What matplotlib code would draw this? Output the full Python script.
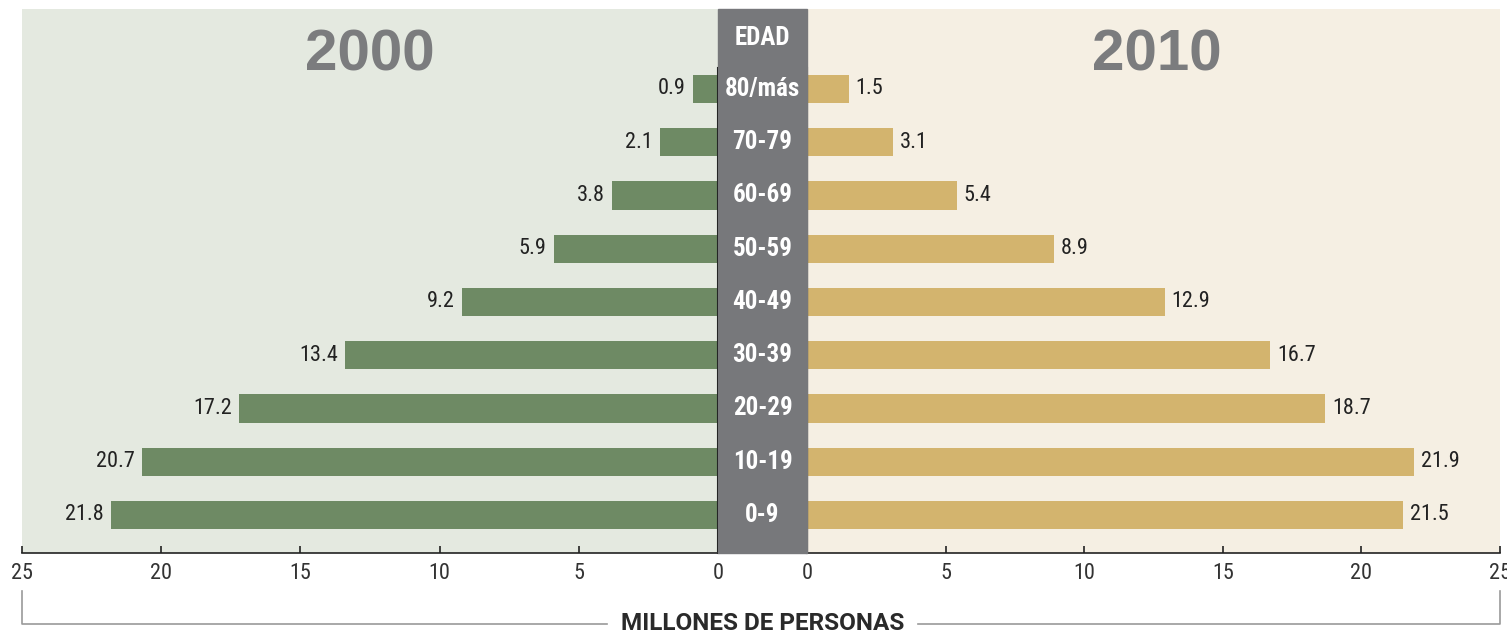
import matplotlib
matplotlib.use('Agg')
import matplotlib.pyplot as plt
from matplotlib.patches import Rectangle
from matplotlib.lines import Line2D
import matplotlib.transforms as mtransforms

# Data (millions of people by age group)
ages = ["0-9", "10-19", "20-29", "30-39", "40-49", "50-59", "60-69", "70-79", "80/más"]
pop_2000 = [21.8, 20.7, 17.2, 13.4, 9.2, 5.9, 3.8, 2.1, 0.9]
pop_2010 = [21.5, 21.9, 18.7, 16.7, 12.9, 8.9, 5.4, 3.1, 1.5]
ticks = [0, 5, 10, 15, 20, 25]

W, H = 1507, 635
NARROW = ['Roboto Condensed', 'DejaVu Sans']
YEARF = ['Liberation Sans', 'DejaVu Sans']
GREEN = '#6e8a64'
TAN = '#d3b46e'
BAND = '#77787b'
YEAR_C = '#7b7c7e'

fig = plt.figure(figsize=(W / 100, H / 100), dpi=100)


def px(x0, y0, x1, y1):
    return [x0 / W, 1 - y1 / H, (x1 - x0) / W, (y1 - y0) / H]


ax_l = fig.add_axes(px(22, 9, 718, 553))
ax_r = fig.add_axes(px(807, 9, 1500, 553))

y = list(range(len(ages)))
ylim = (-0.714, 9.50)

for ax, vals, col, bg in [(ax_l, pop_2000, GREEN, '#e4e9e0'),
                          (ax_r, pop_2010, TAN, '#f5efe3')]:
    ax.set_facecolor(bg)
    ax.barh(y, vals, height=0.53, color=col, zorder=2)
    ax.set_ylim(*ylim)
    ax.set_yticks([])
    ax.set_xticks(ticks)
    ax.set_xticklabels([str(t) for t in ticks], fontfamily=NARROW, fontsize=16, color='#333333')
    ax.tick_params(axis='x', direction='in', length=5, width=1.2, color='#222222', pad=7)
    ax.spines['top'].set_visible(False)
    ax.spines['bottom'].set_color('#222222')
    ax.spines['bottom'].set_linewidth(1.2)

ax_l.set_xlim(25, 0)
ax_r.set_xlim(0, 25)
ax_l.spines['left'].set_visible(False)
ax_r.spines['right'].set_visible(False)
for sp in [ax_l.spines['right'], ax_r.spines['left']]:
    sp.set_bounds(ylim[0], 8.4)
    sp.set_linewidth(1.5)
    sp.set_color('#111111')

for i, v in enumerate(pop_2000):
    ax_l.text(v + 0.25, i, f"{v}", ha='right', va='center', fontfamily=NARROW,
              fontsize=16, color='#222222')
for i, v in enumerate(pop_2010):
    ax_r.text(v + 0.25, i, f"{v}", ha='left', va='center', fontfamily=NARROW,
              fontsize=16, color='#222222')

# Year titles
ax_l.text(0.5, 0.915, "2000", transform=ax_l.transAxes, ha='center', va='center',
          fontsize=42, fontweight='bold', color=YEAR_C, fontfamily=YEARF)
ax_r.text(0.505, 0.915, "2010", transform=ax_r.transAxes, ha='center', va='center',
          fontsize=42, fontweight='bold', color=YEAR_C, fontfamily=YEARF)

# Central age band
fig.patches.append(Rectangle((718 / W, 1 - 553 / H), 89 / W, 544 / H,
                             transform=fig.transFigure, color=BAND, zorder=0))
trans = mtransforms.blended_transform_factory(fig.transFigure, ax_l.transData)
cx = 762.5 / W
for i, a in enumerate(ages):
    fig.text(cx, i, a, transform=trans, ha='center', va='center', fontfamily=NARROW,
             fontsize=18, fontweight='bold', color='white', zorder=5)
fig.text(cx, 1 - 38 / H, "EDAD", ha='center', va='center', fontfamily=NARROW,
         fontsize=18, fontweight='bold', color='white')

# Bottom bracket with axis title
bc = '#9a9a9a'
ytop, ybot = 1 - 591 / H, 1 - 624 / H
fig.add_artist(Line2D([22 / W, 22 / W, 607 / W], [ytop, ybot, ybot], color=bc, lw=1.2))
fig.add_artist(Line2D([918 / W, 1500 / W, 1500 / W], [ybot, ybot, ytop], color=bc, lw=1.2))
fig.text(cx, ybot, "MILLONES DE PERSONAS", ha='center', va='center',
         fontfamily=['Roboto', 'DejaVu Sans'], fontsize=17.5, fontweight='bold', color='#2a2a2a')

fig.savefig('out.png', dpi=100)
